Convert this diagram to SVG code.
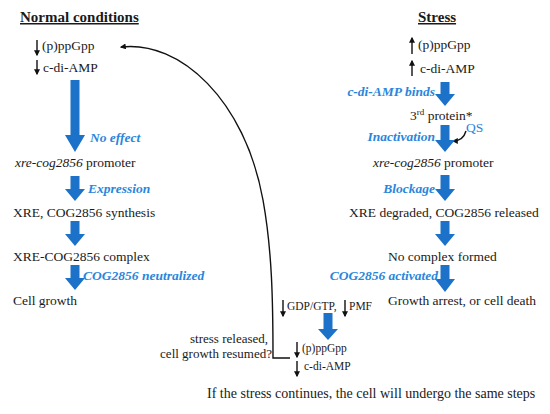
<svg xmlns="http://www.w3.org/2000/svg" width="550" height="414" viewBox="0 0 550 414">
<style>
text{font-family:"Liberation Serif","Times New Roman",serif;fill:#1a1a1a;font-size:13.5px}
.title{font-weight:bold;font-size:15px;text-decoration:underline}
.lbl{fill:#2a86dc;font-weight:bold;font-style:italic}
.it{font-style:italic}
.sm{font-size:11.5px}
.blk{fill:#1c72c8}
.thin{stroke:#111;stroke-width:1.4;fill:none}
</style>
<defs>
<marker id="ah" viewBox="0 0 10 10" refX="8" refY="5" markerWidth="6" markerHeight="6" markerUnits="userSpaceOnUse" orient="auto-start-reverse">
<path d="M0,0 L10,5 L0,10 Z" fill="#111"/>
</marker>
</defs>
<rect width="550" height="414" fill="#fff"/>

<g id="normal-title"><text class="title" x="20" y="22">Normal conditions</text></g>
<g id="normal-ppgpp"><path class="thin" d="M37,40 V55" marker-end="url(#ah)"/><text x="42" y="50">(p)ppGpp</text></g>
<g id="normal-cdiamp"><path class="thin" d="M37,60 V74" marker-end="url(#ah)"/><text x="43" y="72">c-di-AMP</text></g>
<g id="normal-promoter"><text x="15" y="167"><tspan class="it">xre-cog2856</tspan> promoter</text></g>
<g id="normal-synthesis"><text x="13" y="217">XRE, COG2856 synthesis</text></g>
<g id="normal-complex"><text x="13" y="261">XRE-COG2856 complex</text></g>
<g id="normal-growth"><text x="13" y="305">Cell growth</text></g>

<g id="stress-title"><text class="title" x="418" y="22">Stress</text></g>
<g id="stress-ppgpp"><path class="thin" d="M412,54 V38" marker-end="url(#ah)"/><text x="418" y="49">(p)ppGpp</text></g>
<g id="stress-cdiamp"><path class="thin" d="M412,76 V61" marker-end="url(#ah)"/><text x="420" y="73">c-di-AMP</text></g>
<g id="stress-protein"><text x="410" y="120">3<tspan font-size="9" dy="-5">rd</tspan><tspan dy="5"> protein*</tspan></text></g>
<g id="stress-qs"><text class="lbl" style="font-weight:normal;font-style:normal" x="466" y="132">QS</text><path class="thin" d="M466,131 C464,138 460,141 453,141" stroke-width="1.2" marker-end="url(#ah)"/></g>
<g id="stress-promoter"><text x="373" y="167"><tspan class="it">xre-cog2856</tspan> promoter</text></g>
<g id="stress-degraded"><text x="349" y="217">XRE degraded, COG2856 released</text></g>
<g id="stress-nocomplex"><text x="388" y="261">No complex formed</text></g>
<g id="stress-arrest"><text x="388" y="305">Growth arrest, or cell death</text></g>

<g id="bottom-gdp"><path class="thin" d="M283,300 V316" marker-end="url(#ah)"/><text class="sm" x="287" y="310">GDP/GTP,</text><path class="thin" d="M345,300 V316" marker-end="url(#ah)"/><text class="sm" x="349" y="310">PMF</text></g>
<g id="bottom-ppgpp"><path class="thin" d="M297,342 V357" marker-end="url(#ah)"/><text class="sm" x="302" y="352">(p)ppGpp</text></g>
<g id="bottom-cdiamp"><path class="thin" d="M297,361 V376" marker-end="url(#ah)"/><text class="sm" x="304" y="370">c-di-AMP</text></g>
<g id="released"><text x="268" y="343" text-anchor="end" style="font-size:13px">stress released,</text><text x="272" y="358" text-anchor="end" style="font-size:13px">cell growth resumed?</text></g>
<g id="continues"><text x="207" y="398" style="font-size:14px">If the stress continues, the cell will undergo the same steps</text></g>

<g id="connectors">
<path class="blk" d="M70.5,80 H79.5 V135 H85 L75,152 L65,135 H70.5 Z"/>
<path class="blk" d="M70.5,176 H79.5 V189 H85 L75,201 L65,189 H70.5 Z"/>
<path class="blk" d="M70.5,221 H79.5 V234 H85 L75,246 L65,234 H70.5 Z"/>
<path class="blk" d="M70.5,265 H79.5 V278 H85 L75,290 L65,278 H70.5 Z"/>
<path class="blk" d="M440.5,82 H449.5 V94 H455 L445,106 L435,94 H440.5 Z"/>
<path class="blk" d="M440.5,125 H449.5 V140 H455 L445,152 L435,140 H440.5 Z"/>
<path class="blk" d="M440.5,175 H449.5 V189 H455 L445,201 L435,189 H440.5 Z"/>
<path class="blk" d="M440.5,221 H449.5 V234 H455 L445,246 L435,234 H440.5 Z"/>
<path class="blk" d="M440.5,265 H449.5 V279 H455 L445,292 L435,279 H440.5 Z"/>
<path class="blk" d="M323.5,313 H332.5 V329 H338 L328,340 L318,329 H323.5 Z"/>
<text class="lbl" x="90" y="142">No effect</text>
<text class="lbl" x="88" y="193">Expression</text>
<text class="lbl" x="83" y="280">COG2856 neutralized</text>
<text class="lbl" x="435" y="96" text-anchor="end">c-di-AMP binds</text>
<text class="lbl" x="435" y="141" text-anchor="end">Inactivation</text>
<text class="lbl" x="435" y="193" text-anchor="end">Blockage</text>
<text class="lbl" x="438" y="280" text-anchor="end">COG2856 activated</text>
<path class="thin" d="M290,358 H273 C273,300 272,250 263,200 C245,100 180,40 121,47" marker-end="url(#ah)"/>
</g>
</svg>
